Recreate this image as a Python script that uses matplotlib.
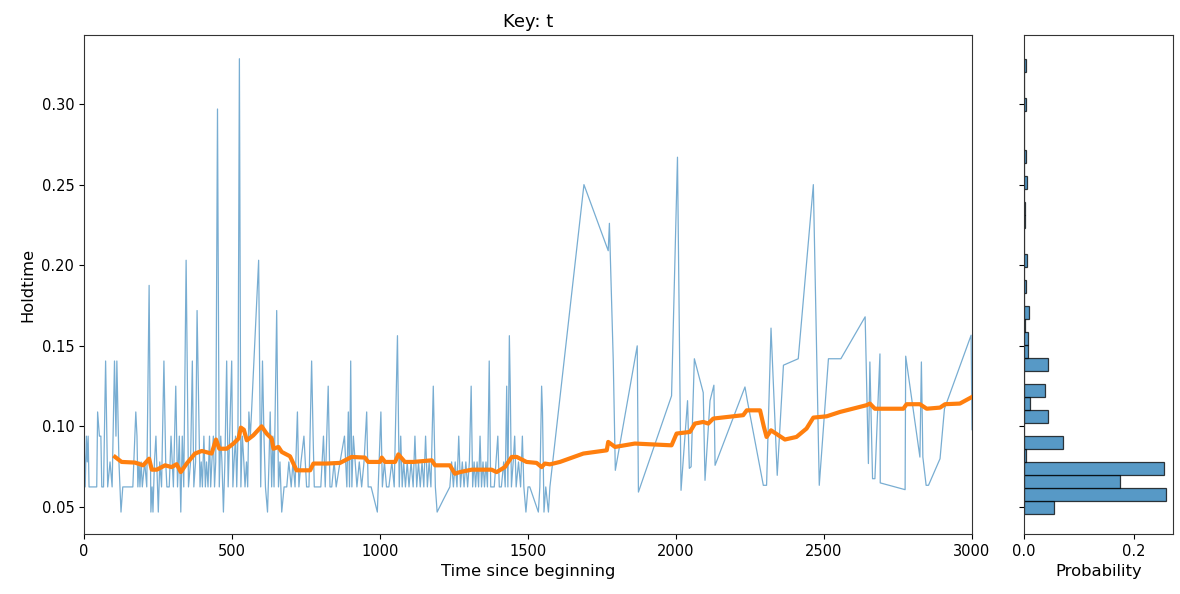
import numpy as np
import matplotlib
matplotlib.use("Agg")
import matplotlib.pyplot as plt
from matplotlib.colors import to_rgba

# ---------------- data ----------------
time_dense = [0, 4, 8, 11, 14, 17, 30, 43, 46, 52, 57, 60, 66, 73, 80, 88, 95, 103, 108, 111,
              118, 125, 131, 140, 152, 165, 175, 179, 182, 186, 189, 193, 197, 205, 212, 220,
              226, 230, 233, 238, 243, 251, 256, 262, 270, 276, 280, 288, 294, 302, 310, 316,
              322, 327, 332, 337, 345, 353, 360, 366, 371, 377, 382, 389, 392, 396, 400, 405,
              410, 414, 419, 424, 428, 432, 437, 441, 445, 451, 457, 462, 466, 471, 476, 482,
              487, 492, 499, 503, 507, 512, 516, 520, 525, 530, 535, 540, 544, 549, 553, 557,
              562, 566, 590, 597, 603, 608, 613, 620, 625, 629, 634, 638, 642, 651, 657, 662,
              668, 676, 685, 692, 700, 706, 713, 721, 726, 733, 743, 752, 760, 769, 774, 778,
              790, 800, 809, 815, 825, 831, 837, 845, 852, 865, 880, 888, 893, 897, 901, 905,
              910, 916, 922, 930, 938, 946, 955, 960, 970, 980, 991, 1003, 1008, 1015, 1022,
              1030, 1040, 1048, 1059, 1065, 1070, 1075, 1080, 1086, 1092, 1098, 1105, 1112,
              1118, 1124, 1130, 1136, 1142, 1148, 1154, 1160, 1166, 1172, 1180, 1187, 1193,
              1215, 1236, 1242, 1248, 1254, 1260, 1266, 1272, 1278, 1284, 1290, 1296, 1302,
              1308, 1313, 1318, 1323, 1328, 1333, 1338, 1343, 1348, 1353, 1358, 1363, 1369,
              1374, 1380, 1386, 1392, 1398, 1403, 1410, 1418, 1423, 1428, 1432, 1437, 1440,
              1444, 1450, 1455, 1460, 1468, 1475, 1481, 1486, 1493, 1500, 1506, 1520, 1535,
              1540, 1546, 1549, 1554, 1560, 1569, 1574]
hold_dense = [0.094, 0.0625, 0.094, 0.078, 0.094, 0.0625, 0.0625, 0.0625, 0.109, 0.094, 0.094,
              0.0625, 0.0625, 0.1406, 0.0625, 0.078, 0.0625, 0.1406, 0.094, 0.1406, 0.078,
              0.0469, 0.0625, 0.0625, 0.0625, 0.0625, 0.109, 0.094, 0.0625, 0.078, 0.0625,
              0.078, 0.0625, 0.078, 0.0625, 0.1875, 0.0469, 0.0625, 0.0469, 0.078, 0.094,
              0.0469, 0.078, 0.0625, 0.1406, 0.078, 0.0625, 0.0625, 0.094, 0.0625, 0.125,
              0.0625, 0.094, 0.0469, 0.094, 0.0625, 0.2031, 0.0625, 0.078, 0.1406, 0.0625,
              0.078, 0.1719, 0.094, 0.0625, 0.078, 0.0625, 0.094, 0.0625, 0.078, 0.0625,
              0.094, 0.0625, 0.078, 0.094, 0.0625, 0.078, 0.2969, 0.0625, 0.094, 0.078,
              0.0469, 0.078, 0.1406, 0.0625, 0.094, 0.1406, 0.0625, 0.078, 0.094, 0.0625,
              0.094, 0.3281, 0.0625, 0.094, 0.078, 0.0625, 0.078, 0.0625, 0.109, 0.094,
              0.109, 0.2031, 0.0625, 0.1406, 0.094, 0.0625, 0.0469, 0.078, 0.109, 0.0625,
              0.094, 0.0625, 0.1719, 0.0625, 0.078, 0.0469, 0.0625, 0.0625, 0.078, 0.0625,
              0.078, 0.0625, 0.109, 0.0625, 0.078, 0.094, 0.0625, 0.0625, 0.1406, 0.094,
              0.0625, 0.0625, 0.0625, 0.094, 0.0625, 0.125, 0.0625, 0.0625, 0.078, 0.0625,
              0.078, 0.094, 0.0625, 0.109, 0.0625, 0.1406, 0.0625, 0.094, 0.078, 0.0625,
              0.078, 0.0625, 0.078, 0.109, 0.0625, 0.0625, 0.055, 0.0469, 0.109, 0.0625,
              0.078, 0.0625, 0.0625, 0.078, 0.0625, 0.1563, 0.0625, 0.094, 0.0625, 0.078,
              0.0625, 0.078, 0.0625, 0.078, 0.0625, 0.094, 0.0625, 0.078, 0.0625, 0.078,
              0.0625, 0.094, 0.0625, 0.078, 0.0625, 0.125, 0.0625, 0.0469, 0.055, 0.0625,
              0.078, 0.0625, 0.078, 0.0625, 0.094, 0.0625, 0.078, 0.0625, 0.078, 0.0625,
              0.078, 0.125, 0.0625, 0.078, 0.0625, 0.078, 0.0625, 0.094, 0.0625, 0.078,
              0.0625, 0.078, 0.0625, 0.1406, 0.0625, 0.0625, 0.0625, 0.078, 0.094, 0.0625,
              0.0625, 0.078, 0.0625, 0.125, 0.0625, 0.1563, 0.125, 0.0625, 0.078, 0.094,
              0.0625, 0.078, 0.0625, 0.094, 0.0625, 0.0469, 0.0625, 0.0625, 0.055, 0.0469,
              0.0625, 0.125, 0.109, 0.0469, 0.0625, 0.0469, 0.0625]

time_sparse = [1689, 1771, 1775, 1788, 1795, 1869, 1873, 1985, 2005, 2017, 2039, 2045, 2051,
               2062, 2092, 2098, 2115, 2128, 2132, 2233, 2241, 2295, 2306, 2321, 2342, 2363,
               2413, 2464, 2484, 2515, 2557, 2639, 2650, 2655, 2664, 2672, 2689, 2690, 2774,
               2776, 2824, 2829, 2834, 2845, 2853, 2892, 2907, 2997, 3000]
hold_sparse = [0.250, 0.209, 0.226, 0.141, 0.0728, 0.150, 0.0593, 0.119, 0.267, 0.0604, 0.116,
               0.074, 0.075, 0.142, 0.121, 0.0666, 0.116, 0.1256, 0.0759, 0.1245, 0.116,
               0.0635, 0.0635, 0.161, 0.0697, 0.138, 0.142, 0.250, 0.0635, 0.142, 0.142,
               0.168, 0.077, 0.140, 0.0676, 0.0676, 0.145, 0.065, 0.0608, 0.1436, 0.081,
               0.140, 0.081, 0.0635, 0.0635, 0.080, 0.111, 0.1566, 0.098]

rolling_time = [105, 127, 172, 200, 220, 229, 246, 274, 296, 313, 327, 347, 375, 398, 431, 446,
                457, 482, 505, 522, 530, 540, 550, 572, 600, 617, 634, 640, 657, 668, 696, 718,
                764, 775, 820, 865, 904, 949, 960, 1000, 1006, 1017, 1051, 1062, 1084, 1113,
                1175, 1186, 1236, 1253, 1270, 1310, 1377, 1394, 1422, 1445, 1462, 1495, 1529,
                1546, 1557, 1574, 1608, 1687, 1766, 1771, 1794, 1861, 1985, 2002, 2047, 2064,
                2092, 2109, 2126, 2227, 2239, 2284, 2297, 2306, 2321, 2368, 2407, 2441, 2464,
                2509, 2554, 2644, 2655, 2672, 2768, 2779, 2824, 2847, 2892, 2909, 2959, 3000]
rolling_mean = [0.0811, 0.0780, 0.0776, 0.0759, 0.0800, 0.0732, 0.0732, 0.0759, 0.0748, 0.0766,
                0.0717, 0.0770, 0.0832, 0.0848, 0.0832, 0.0919, 0.0862, 0.0862, 0.0894, 0.0925,
                0.0993, 0.0980, 0.0914, 0.0945, 0.1001, 0.0956, 0.0925, 0.0862, 0.0873, 0.0842,
                0.0815, 0.0728, 0.0728, 0.0770, 0.0770, 0.0774, 0.0811, 0.0807, 0.0780, 0.0780,
                0.0807, 0.0780, 0.0780, 0.0827, 0.0780, 0.0780, 0.0790, 0.0759, 0.0759, 0.0707,
                0.0717, 0.0732, 0.0732, 0.0717, 0.0748, 0.0811, 0.0811, 0.0780, 0.0774, 0.0748,
                0.0770, 0.0765, 0.0780, 0.0832, 0.0852, 0.0904, 0.0873, 0.0894, 0.0883, 0.0956,
                0.0966, 0.1018, 0.1028, 0.1018, 0.1049, 0.1070, 0.1100, 0.1100, 0.0997, 0.0935,
                0.0976, 0.0919, 0.0935, 0.0987, 0.1055, 0.1063, 0.1090, 0.1132, 0.1142, 0.1110,
                0.1110, 0.1138, 0.1138, 0.1110, 0.1117, 0.1138, 0.1142, 0.1183]

# histogram: 35 equal bins between min and max holdtime
hist_lo, hist_hi = 0.046, 0.328
hist_prob = [0.054, 0.259, 0.176, 0.255, 0.003, 0.072, 0.0, 0.0446, 0.011, 0.0385,
             0.0, 0.0446, 0.008, 0.008, 0.002, 0.009, 0.0, 0.003, 0.0, 0.006,
             0.0, 0.0, 0.002, 0.002, 0.0, 0.006, 0.0, 0.003, 0.0, 0.0,
             0.0, 0.004, 0.0, 0.0, 0.004]

title = "Key: t"
xlabel = "Time since beginning"
ylabel = "Holdtime"
hist_xlabel = "Probability"

# ---------------- plot ----------------
times = np.array(time_dense + time_sparse, dtype=float)
holds = np.array(hold_dense + hold_sparse, dtype=float)

W, H = 1180, 594
fig = plt.figure(figsize=(W / 100, H / 100), dpi=100)
ax = fig.add_axes([84 / W, 1 - 534 / H, 888 / W, 499 / H])
axh = fig.add_axes([1024 / W, 1 - 534 / H, 149 / W, 499 / H], sharey=ax)

ax.plot(times, holds, color="C0", lw=0.9, alpha=0.6)
ax.plot(rolling_time, rolling_mean, color="C1", lw=3.0)
ax.set_xlim(0, 3000)
ax.set_ylim(0.0333, 0.3428)
ax.set_yticks([0.05, 0.10, 0.15, 0.20, 0.25, 0.30])
ax.set_title(title, fontsize=13)
ax.set_xlabel(xlabel, fontsize=11.8)
ax.set_ylabel(ylabel, fontsize=11.8)
ax.tick_params(labelsize=10.5)
for s in ax.spines.values():
    s.set_color("#333333")

edges = np.linspace(hist_lo, hist_hi, len(hist_prob) + 1)
axh.barh(edges[:-1], hist_prob, height=np.diff(edges), align="edge",
         facecolor=to_rgba("C0", 0.75), edgecolor=to_rgba("black", 0.75), linewidth=0.9)
axh.set_xlim(0, 0.272)
axh.set_xticks([0.0, 0.2])
axh.set_xticklabels(["0.0", "0.2"])
axh.set_xlabel(hist_xlabel, fontsize=11.8)
axh.tick_params(labelsize=10.5, labelleft=False)
for s in axh.spines.values():
    s.set_color("#333333")

fig.savefig("out.png", dpi=100)
